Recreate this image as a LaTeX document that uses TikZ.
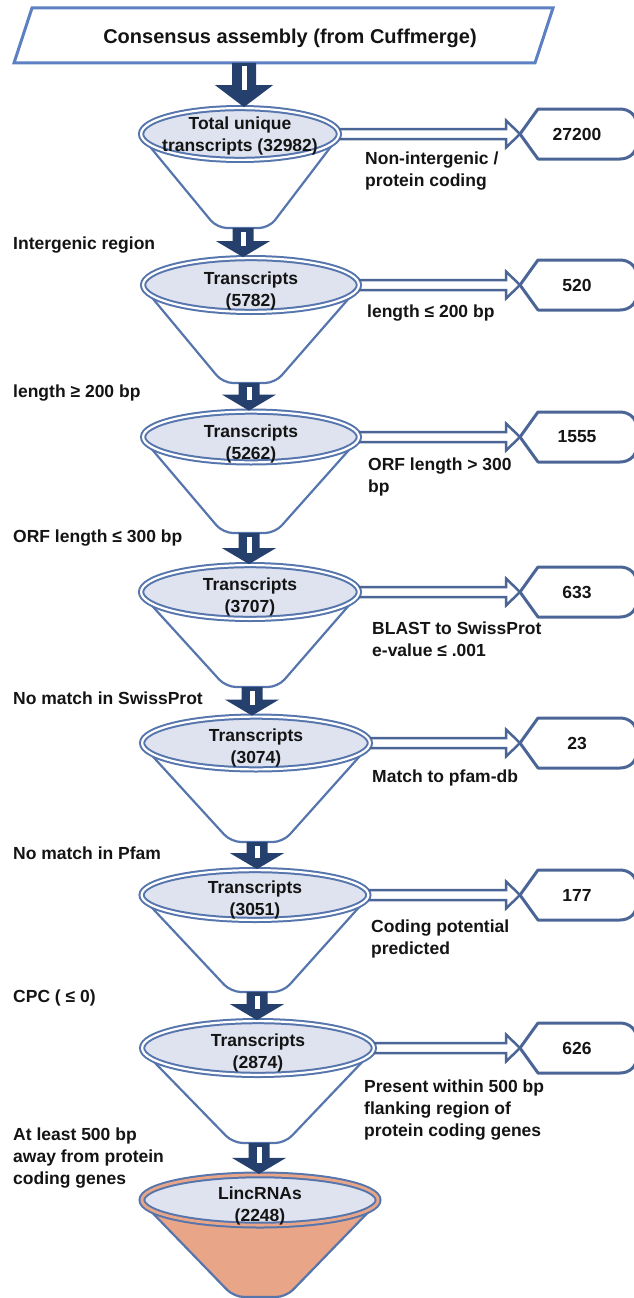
\documentclass[tikz,border=0pt]{standalone}
\usepackage{fontspec}
\setmainfont{Liberation Sans}
\usetikzlibrary{shapes.geometric,calc}
\definecolor{lineblue}{RGB}{86,117,173}
\definecolor{ellfill}{RGB}{222,227,239}
\definecolor{darkarrow}{RGB}{38,64,110}
\definecolor{boxblue}{RGB}{75,101,150}
\definecolor{topblue}{RGB}{92,128,194}
\definecolor{orangefill}{RGB}{232,165,135}
\definecolor{txt}{RGB}{20,20,20}

\tikzset{
 fz/.style={font=\fontsize{17.5}{22}\selectfont\bfseries, text=txt},
 ell/.style={ellipse, draw=lineblue, line width=2pt, double=white, double distance=2.2pt, fill=ellfill, inner sep=0pt},
 cone/.style={draw=lineblue, line width=2.2pt, rounded corners=10pt, line join=round},
 ftext/.style={fz, align=center, inner sep=0pt},
 lab/.style={fz, align=left, anchor=west, inner sep=0pt},
 boxtext/.style={fz, inner sep=0pt},
 boxline/.style={draw=boxblue, line width=3pt, line join=round},
 harrow/.style={draw=boxblue, line width=2.5pt, line join=miter},
 arrowfill/.style={fill=darkarrow},
 topline/.style={draw=topblue, line width=3pt, line join=miter},
}

% #1 name, #2 cx, #3 cy, #4 outer width, #5 outer height, #6 bottom x, #7 bottom y, #8 text y, #9 text
\newcommand\funnel[9]{%
 \draw[cone] (#2-#4/2+1.5,#3) -- (#6-26,#7) -- (#6+26,#7) -- (#2+#4/2-1.5,#3);
 \node[ell, minimum width=#4pt-6.2pt, minimum height=#5pt-6.2pt] (#1) at (#2,#3) {};
 \node[ftext] (#1t) at (#2,#8) {#9};
 \coordinate (#1b) at (#6,#7);
}
% #1 from, #2 to, #3 shaft half width, #4 head half width, #5 head length
\newcommand\blockarr[5]{%
 \fill[arrowfill] let \p1=(#1), \p2=(#2) in
   (\x1-#3pt,\y1) -- (\x1+#3pt,\y1) -- (\x1+#3pt,\y2+#5pt) -- (\x1+#4pt,\y2+#5pt)
   -- (\x1,\y2) -- (\x1-#4pt,\y2+#5pt) -- (\x1-#3pt,\y2+#5pt) -- cycle;
 \fill[white] let \p1=(#1), \p2=(#2) in
   (\x1-2.5pt,\y1-3.5pt) rectangle (\x1+2.5pt,\y2+#5pt-5pt);
}
% #1 name, #2 cy, #3 text
\newcommand\outbox[3]{%
 \draw[boxline] (520,#2) -- (538,#2-25) -- (620,#2-25)
   .. controls (630,#2-25) and (637,#2-18) .. (637,#2-8) -- (637,#2+8)
   .. controls (637,#2+18) and (630,#2+25) .. (620,#2+25) -- (538,#2+25) -- cycle;
 \node[boxtext] (#1) at (577,#2) {#3};
 \coordinate (#1p) at (520,#2);
}
% #1 funnel node, #2 box point
\newcommand\harr[2]{%
 \draw[harrow] let \p1=(#1.east), \p2=(#2) in
   (\x1-1pt,\y1+5pt) -- (\x2-14pt,\y1+5pt) -- (\x2-14pt,\y1+13.5pt) -- (\x2,\y1)
   -- (\x2-14pt,\y1-13.5pt) -- (\x2-14pt,\y1-5pt) -- (\x1-1pt,\y1-5pt);
}

\begin{document}
\begin{tikzpicture}[x=1pt,y=-1pt]
\useasboundingbox (0,0) rectangle (633,1298);

% top parallelogram
\draw[topline] (32,8) -- (553,8) -- (535,63) -- (14,63) -- cycle;
\node[fz, font=\fontsize{20}{24}\selectfont\bfseries, inner sep=0pt] (top) at (290,38) {Consensus assembly (from Cuffmerge)};
\coordinate (tops) at (244,63);

% funnels
\funnel{f1}{240}{134}{204}{58}{243}{228}{135.5}{Total unique\\transcripts (32982)}
\funnel{f2}{251}{285}{222}{60}{249}{383}{290.5}{Transcripts\\(5782)}
\funnel{f3}{251}{437}{222}{57}{249}{533}{443.5}{Transcripts\\(5262)}
\funnel{f4}{250}{592}{224}{60}{252}{687}{596.5}{Transcripts\\(3707)}
\funnel{f5}{256}{743}{234}{59}{257}{842}{748}{Transcripts\\(3074)}
\funnel{f6}{255}{895}{233}{56}{257}{992}{899.5}{Transcripts\\(3051)}
\funnel{f7}{258}{1048}{238}{60}{259}{1143}{1052.5}{Transcripts\\(2874)}

% final orange funnel
\draw[cone, fill=orangefill] (260-121.5+1.5,1200) -- (234,1297) -- (286,1297) -- (260+121.5-1.5,1200) -- cycle;
\node[ell, double=orangefill, double distance=2.8pt, minimum width=243pt-6.8pt, minimum height=57pt-6.8pt] (f8) at (260,1200) {};
\node[ftext] (f8t) at (260,1206) {LincRNAs\\(2248)};

% down arrows
\blockarr{tops}{f1.north}{12}{29}{22}
\blockarr{f1b}{f2.north}{10.5}{27}{16}
\blockarr{f2b}{f3.north}{10.5}{27}{16}
\blockarr{f3b}{f4.north}{10.5}{27}{16}
\blockarr{f4b}{f5.north}{10.5}{27}{16}
\blockarr{f5b}{f6.north}{10.5}{27}{16}
\blockarr{f6b}{f7.north}{10.5}{27}{16}
\blockarr{f7b}{f8.north}{10.5}{27}{16}

% output boxes
\outbox{b1}{134}{27200}
\outbox{b2}{285}{520}
\outbox{b3}{437}{1555}
\outbox{b4}{592}{633}
\outbox{b5}{743}{23}
\outbox{b6}{895}{177}
\outbox{b7}{1048}{626}

\harr{f1}{b1p}
\harr{f2}{b2p}
\harr{f3}{b3p}
\harr{f4}{b4p}
\harr{f5}{b5p}
\harr{f6}{b6p}
\harr{f7}{b7p}

% right labels
\node[lab] (r1) at (365,171) {Non-intergenic /\\protein coding};
\node[lab] (r2) at (367,313) {length ≤ 200 bp};
\node[lab] (r3) at (368,477) {ORF length > 300\\bp};
\node[lab] (r4) at (372,639) {BLAST to SwissProt\\e-value ≤ .001};
\node[lab] (r5) at (372,778) {Match to pfam-db};
\node[lab] (r6) at (371,939) {Coding potential\\predicted};
\node[lab] (r7) at (364,1110) {Present within 500 bp\\flanking region of\\protein coding genes};

% left labels
\node[lab] (l1) at (13,245) {Intergenic region};
\node[lab] (l2) at (13,393) {length ≥ 200 bp};
\node[lab] (l3) at (13,538) {ORF length ≤ 300 bp};
\node[lab] (l4) at (13,698) {No match in SwissProt};
\node[lab] (l5) at (13,853) {No match in Pfam};
\node[lab] (l6) at (13,998) {CPC ( ≤ 0)};
\node[lab] (l7) at (13,1158) {At least 500 bp\\away from protein\\coding genes};
\end{tikzpicture}
\end{document}
